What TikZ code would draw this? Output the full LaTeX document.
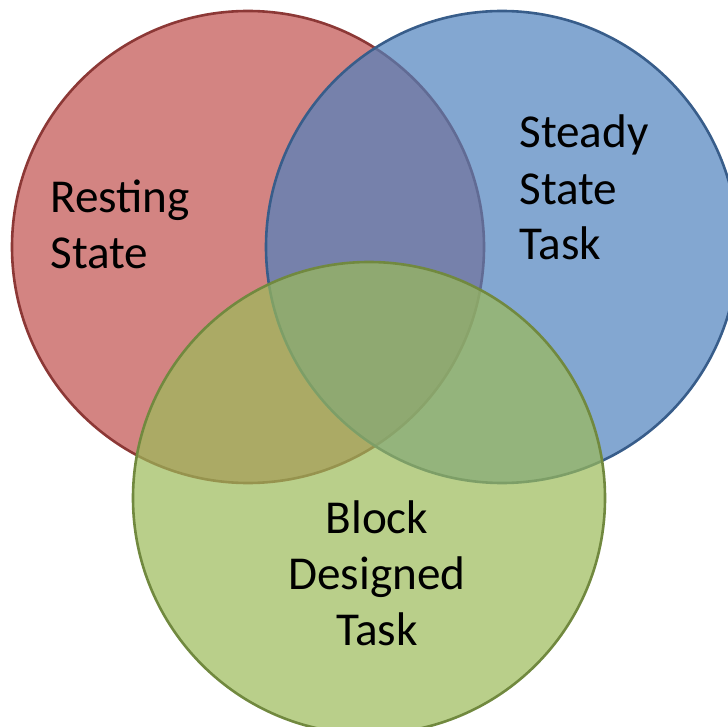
\documentclass[tikz,border=0pt]{standalone}
\usepackage{fontspec}
\setmainfont{Carlito}
\definecolor{setred}{HTML}{C0504D}
\definecolor{setredline}{HTML}{8C3836}
\definecolor{setblue}{HTML}{4F81BD}
\definecolor{setblueline}{HTML}{385D8A}
\definecolor{setgreen}{HTML}{9BBB59}
\definecolor{setgreenline}{HTML}{71893F}
\tikzset{
  set/.style={line width=1.3pt, fill opacity=0.7},
  setlabel/.style={inner sep=0pt, font=\fontsize{23.6}{28}\selectfont},
}
\begin{document}
\begin{tikzpicture}[x=0.5pt,y=-0.5pt]
        \useasboundingbox (0,0) rectangle (728,727);
        \draw[set, draw=setredline, fill=setred] (248,247) circle (236);
        \draw[set, draw=setblueline, fill=setblue] (502,247) circle (236);
        \draw[set, draw=setgreenline, fill=setgreen] (369,498) circle (236);

        % base = baseline of the last line
        \node[setlabel, anchor=base west, align=left] (rest) at (50,269){Resting\\State};
        \node[setlabel, anchor=base west, align=left] (steady) at (519,260){Steady\\State\\Task};
        \node[setlabel, anchor=base, align=center] (block) at (377,645){Block\\Designed\\Task};
      \end{tikzpicture}
\end{document}
